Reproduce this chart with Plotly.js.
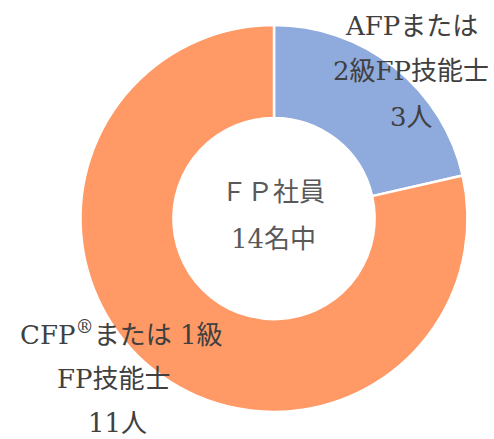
<!DOCTYPE html>
<html>
<head>
<meta charset="utf-8">
<script src="https://cdn.plot.ly/plotly-3.0.1.min.js"></script>
<style>html,body{margin:0;padding:0;background:#fff;}#chart{width:494px;height:439px;}</style>
</head>
<body>
<div id="chart"></div>
<script>
const categories = ["AFPまたは2級FP技能士", "CFP®または1級FP技能士"];
const counts = [3, 11];
const sliceColors = ["#8FAADC", "#FF9966"];
const labelLinesAFP = ["AFPまたは", "2級FP技能士", "3人"];
const labelLinesCFP = ["CFP®または 1級", "FP技能士", "11人"];
const centerLines = ["ＦＰ社員", "14名中"];

const W = 494, H = 439;
const fontFam = "DejaVu Serif, Liberation Serif, Noto Sans CJK JP, serif";
function px(x){return x / W;}
function py(y){return 1 - y / H;}
function fmt(t){return t.replace("®", "<sup>®</sup>");}

const annotations = [];
const afpY = [26, 71, 117];
labelLinesAFP.forEach((t, i) => annotations.push({
  text: fmt(t), x: px(411), y: py(afpY[i]), xref: "paper", yref: "paper",
  xanchor: "center", yanchor: "middle", showarrow: false, borderpad: 0,
  font: {family: fontFam, size: 26, color: "#404040"}
}));
const cfpY = [333, 379, 423];
const cfpX = [121, 114, 117];
labelLinesCFP.forEach((t, i) => annotations.push({
  text: fmt(t), x: px(cfpX[i]), y: py(cfpY[i]), xref: "paper", yref: "paper",
  xanchor: "center", yanchor: "middle", showarrow: false, borderpad: 0,
  font: {family: fontFam, size: 26, color: "#404040"}
}));
const cY = [192, 239];
centerLines.forEach((t, i) => annotations.push({
  text: t, x: px(273), y: py(cY[i]), xref: "paper", yref: "paper",
  xanchor: "center", yanchor: "middle", showarrow: false, borderpad: 0,
  font: {family: fontFam, size: 26, color: "#595959"}
}));

Plotly.newPlot("chart", [{
  type: "pie",
  labels: categories,
  values: counts,
  hole: 0.52,
  sort: false,
  direction: "clockwise",
  rotation: 0,
  textinfo: "none",
  hoverinfo: "none",
  marker: {colors: sliceColors, line: {color: "#ffffff", width: 2.5}},
  domain: {x: [80 / W, 468 / W], y: [1 - 412 / H, 1 - 25 / H]}
}], {
  width: W, height: H,
  margin: {l: 0, r: 0, t: 0, b: 0},
  paper_bgcolor: "#ffffff",
  showlegend: false,
  annotations: annotations
}, {displayModeBar: false, staticPlot: true});
</script>
</body>
</html>
